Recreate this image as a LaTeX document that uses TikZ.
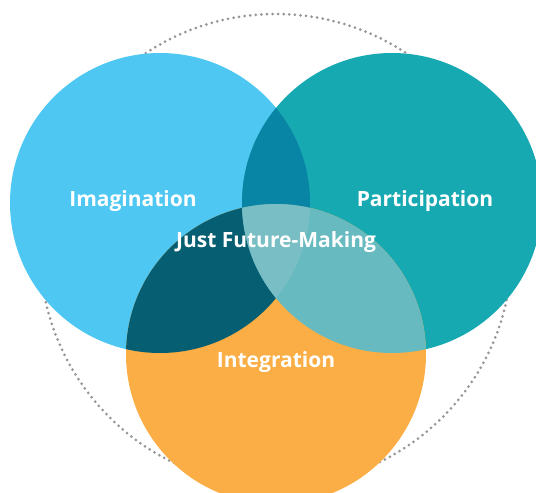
\documentclass[tikz,border=0pt]{standalone}
\usepackage{fontspec}
\setmainfont{Open Sans}
\usepackage{tikz}
\usetikzlibrary{positioning}
\definecolor{skyblue}{RGB}{78, 200, 242}
\definecolor{teal1}{RGB}{23, 169, 178}
\definecolor{orange1}{RGB}{250, 174, 69}
\definecolor{overlapIP}{RGB}{8, 132, 165}
\definecolor{overlapII}{RGB}{6, 94, 114}
\definecolor{overlapPI}{RGB}{102, 186, 192}
\definecolor{overlapAll}{RGB}{120, 190, 196}
\definecolor{dotgray}{RGB}{150, 150, 150}
\tikzstyle{label} = [text=white,font=\fontsize{21}{24}\selectfont\bfseries,inner sep=0pt]
\tikzstyle{ring} = [draw=dotgray,line width=3pt,dash pattern=on 0pt off 5.6pt,line cap=round]

\begin{document}
\begin{tikzpicture}[x=1pt,y=-1pt]
    \useasboundingbox (0,0) rectangle (536,493);

      % circle centres
      \coordinate (ci) at (160,203);
      \coordinate (cp) at (392,203);
      \coordinate (cg) at (276,354);

      \path[ring] (276,250) circle (236);

      \fill[skyblue] (ci) circle (150);
      \fill[teal1]   (cp) circle (150);
      \fill[orange1] (cg) circle (150);

      % overlaps
      \begin{scope}
        \clip (ci) circle (150);
        \fill[overlapIP] (cp) circle (150);
        \fill[overlapII] (cg) circle (150);
      \end{scope}
      \begin{scope}
        \clip (cp) circle (150);
        \fill[overlapPI] (cg) circle (150);
        \clip (ci) circle (150);
        \fill[overlapAll] (cg) circle (150);
      \end{scope}

      \node[label] (imag)   at (133,201) {Imagination};
      \node[label] (partic) at (425,201) {Participation};
      \node[label] (integ)  at (276,362) {Integration};
      \node[label] (just)   at (276,242) {Just Future-Making};
    \end{tikzpicture}
\end{document}
